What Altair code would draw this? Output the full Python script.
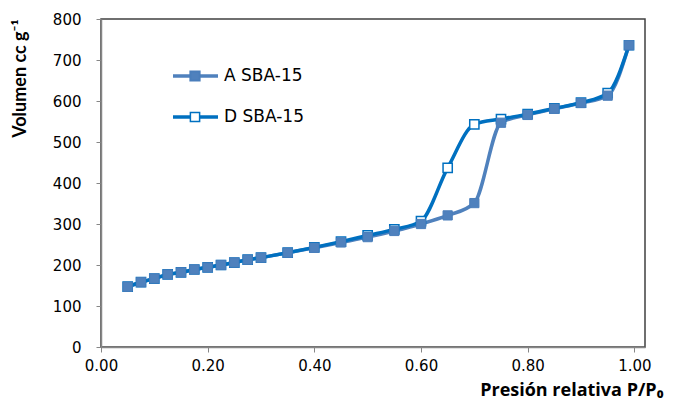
import altair as alt
import pandas as pd

# ---- data ----
x_vals = [0.05, 0.075, 0.10, 0.125, 0.15, 0.175, 0.20, 0.225, 0.25, 0.275, 0.30,
          0.35, 0.40, 0.45, 0.50, 0.55, 0.60, 0.65, 0.70, 0.75, 0.80, 0.85, 0.90,
          0.95, 0.99]
a_vals = [147, 158, 167, 177, 182, 189, 194, 200, 206, 213, 218,
          230, 242, 255, 268, 283, 300, 321, 351, 547, 566, 581, 595,
          613, 736]
d_vals = [147, 158, 167, 177, 182, 189, 194, 200, 206, 213, 218,
          230, 243, 257, 272, 287, 307, 437, 543, 556, 568, 582, 596,
          619, 736]
series_names = ["A SBA-15", "D SBA-15"]
x_ticks = [0.0, 0.2, 0.4, 0.6, 0.8, 1.0]
y_ticks = [0, 100, 200, 300, 400, 500, 600, 700, 800]

COL_A = "#4F81BD"
COL_D = "#0070C0"
FONT = "DejaVu Sans"

df_a = pd.DataFrame({"x": x_vals, "y": a_vals, "s": series_names[0]})
df_d = pd.DataFrame({"x": x_vals, "y": d_vals, "s": series_names[1]})

xenc = alt.X("x:Q",
             scale=alt.Scale(domain=[0, 1.02], nice=False, zero=False),
             axis=alt.Axis(values=x_ticks, format=".2f", grid=False,
                           labelFlush=False,
                           title="Presión relativa P/P₀",
                           titleFont="Open Sans", titleFontWeight="bold",
                           titleFontSize=18, titleColor="#000000",
                           titleAnchor="end", titleAlign="right",
                           titleX=562, titleY=48, titleBaseline="alphabetic",
                           labelFont=FONT, labelFontSize=15, labelColor="#000000",
                           labelPadding=6, tickSize=5, tickColor="#868686",
                           domainColor="#868686", domainWidth=1.5))
yenc = alt.Y("y:Q",
             scale=alt.Scale(domain=[0, 800], nice=False),
             axis=alt.Axis(values=y_ticks, grid=False, labelFlush=False,
                           title="Volumen cc g⁻¹",
                           titleFont="Lato", titleFontWeight="bold",
                           titleFontSize=18, titleColor="#000000",
                           titleAngle=-90, titleAlign="right",
                           titleBaseline="middle",
                           titleX=-81, titleY=0,
                           labelFont=FONT, labelFontSize=15, labelColor="#000000",
                           labelPadding=15, tickSize=5, tickColor="#868686",
                           domainColor="#868686", domainWidth=1.5))

line_a = alt.Chart(df_a).mark_line(color=COL_A, strokeWidth=3.5,
                                   interpolate="monotone").encode(x=xenc, y=yenc)
line_d = alt.Chart(df_d).mark_line(color=COL_D, strokeWidth=3.5,
                                   interpolate="monotone").encode(x="x:Q", y="y:Q")
pts_d = alt.Chart(df_d).mark_point(shape="square", size=85, filled=True,
                                   fill="white", stroke=COL_D, strokeWidth=1.5,
                                   opacity=1).encode(x="x:Q", y="y:Q")
pts_a = alt.Chart(df_a).mark_point(shape="square", size=85, filled=True,
                                   fill=COL_A, stroke="#4A7EBB", strokeWidth=1,
                                   opacity=1).encode(x="x:Q", y="y:Q")

# ---- in-plot legend ----
legend_layers = []
leg_y = [57, 98]
leg_cols = [COL_A, COL_D]
for i, name in enumerate(series_names):
    ldf = pd.DataFrame({"label": [name]})
    base = alt.Chart(ldf)
    legend_layers.append(base.mark_rule(color=leg_cols[i], strokeWidth=3.5).encode(
        x=alt.value(72), x2=alt.value(117), y=alt.value(leg_y[i])))
    if i == 0:
        legend_layers.append(base.mark_point(shape="square", size=85, filled=True,
                                             fill=COL_A, stroke="#4A7EBB",
                                             opacity=1).encode(
            x=alt.value(94), y=alt.value(leg_y[i])))
    else:
        legend_layers.append(base.mark_point(shape="square", size=85, filled=True,
                                             fill="white", stroke=COL_D,
                                             strokeWidth=1.5, opacity=1).encode(
            x=alt.value(94), y=alt.value(leg_y[i])))
    legend_layers.append(base.mark_text(align="left", baseline="middle",
                                        font=FONT, fontSize=17,
                                        color="#000000").encode(
        x=alt.value(123), y=alt.value(leg_y[i]), text="label:N"))

chart = alt.layer(line_a, line_d, pts_d, pts_a, *legend_layers).properties(
    width=544, height=328,
    autosize=alt.AutoSizeParams(type="none"),
    padding={"left": 93, "top": 11, "right": 20, "bottom": 54},
    background="white",
).configure_view(stroke="#404040", strokeWidth=1.5)

chart.save("out.html", embed_options={"renderer": "svg", "actions": False})
